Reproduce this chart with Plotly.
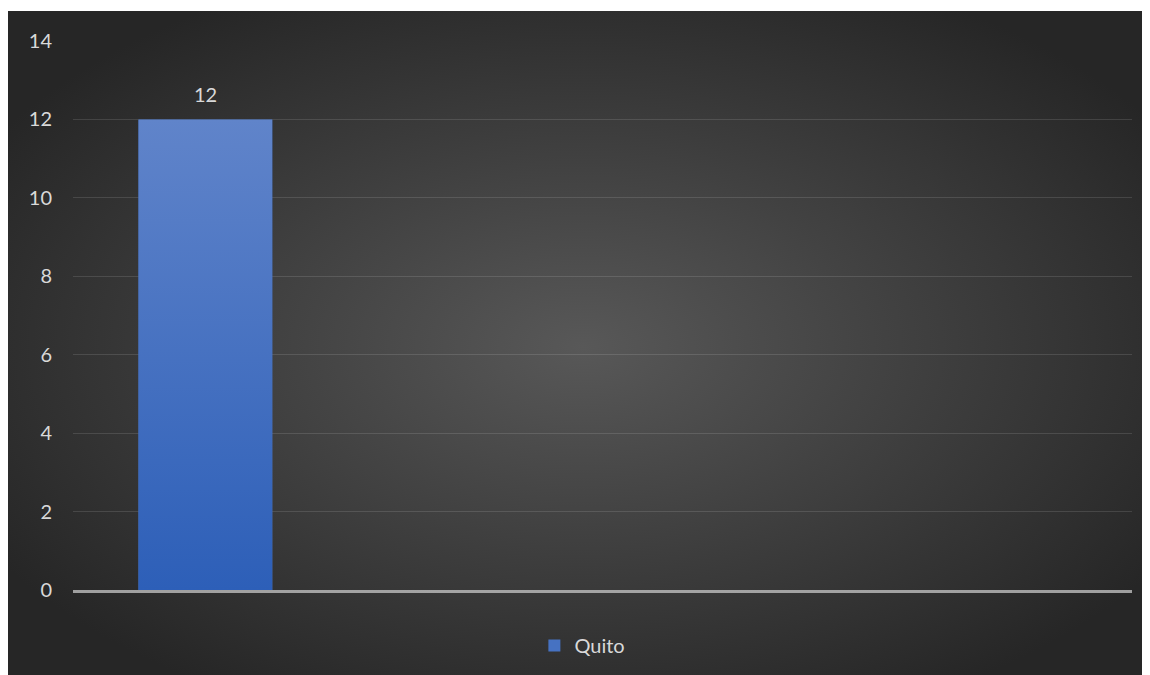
import base64
import plotly.graph_objects as go

# ---- data ----
slots = [0, 1, 2, 3]            # category slots along the x axis (only first has a value)
series_name = "Quito"
values = [12]
value_labels = ["12"]
y_ticks = [0, 2, 4, 6, 8, 10, 12, 14]

BAR_W = 0.506
W, H = 1150, 675
ML, MR, MT, MB = 65, 26, 33, 93
PW, PH = W - ML - MR, H - MT - MB


def svg_uri(s):
    return "data:image/svg+xml;base64," + base64.b64encode(s.encode()).decode()


bg_svg = f'''<svg xmlns="http://www.w3.org/2000/svg" width="{W}" height="{H}" viewBox="0 0 {W} {H}" preserveAspectRatio="none">
<defs><radialGradient id="g" cx="50%" cy="50%" r="60%">
<stop offset="0%" stop-color="#585858"/>
<stop offset="100%" stop-color="#262626"/>
</radialGradient></defs>
<rect x="0" y="0" width="{W}" height="{H}" fill="#ffffff"/>
<rect x="0" y="3" width="{W}" height="{H-3}" fill="url(#g)"/>
</svg>'''

bar_svg = '''<svg xmlns="http://www.w3.org/2000/svg" width="100" height="100" viewBox="0 0 100 100" preserveAspectRatio="none">
<defs><linearGradient id="b" x1="0" y1="0" x2="0" y2="1">
<stop offset="0%" stop-color="#6084CA"/>
<stop offset="100%" stop-color="#2D5FB8"/>
</linearGradient></defs>
<rect x="0" y="0" width="100" height="100" fill="url(#b)"/>
</svg>'''

font = "Lato, 'Open Sans', sans-serif"
fig = go.Figure()
fig.add_trace(go.Bar(
    x=slots[:len(values)], y=values, name=series_name, width=BAR_W,
    marker=dict(color="#4672C2", line=dict(width=0)),
    showlegend=True,
))

images = [dict(source=svg_uri(bg_svg), xref="paper", yref="paper",
               x=-ML / PW, y=1 + MT / PH, sizex=W / PW, sizey=H / PH,
               xanchor="left", yanchor="top", sizing="stretch", layer="below")]
# gradient fill laid over each bar, placed through the data axes
for x, v in zip(slots, values):
    images.append(dict(source=svg_uri(bar_svg), xref="x", yref="y",
                       x=x - BAR_W / 2, y=v, sizex=BAR_W, sizey=v,
                       xanchor="left", yanchor="top", sizing="stretch", layer="above"))

for x, v, t in zip(slots, values, value_labels):
    fig.add_annotation(x=x, y=v, text=t, showarrow=False, yanchor="bottom",
                       yshift=11, font=dict(color="#d9d9d9", size=20, family=font))

fig.update_layout(
    width=W, height=H,
    margin=dict(l=ML, r=MR, t=MT, b=MB),
    paper_bgcolor="rgba(0,0,0,0)", plot_bgcolor="rgba(0,0,0,0)",
    font=dict(family=font, color="#d9d9d9", size=20),
    showlegend=True,
    legend=dict(orientation="h", x=0.481, xanchor="center", y=-0.101, yanchor="middle",
                font=dict(size=20, color="#d9d9d9"), itemwidth=30,
                bgcolor="rgba(0,0,0,0)"),
    images=images,
    xaxis=dict(range=[-0.5, 3.5], showticklabels=False, showgrid=False, zeroline=False,
               showline=True, linecolor="rgba(200,200,200,0.75)", linewidth=2.5, ticks=""),
    yaxis=dict(range=[0, 14], tickvals=y_ticks, showgrid=True,
               gridcolor="rgba(255,255,255,0.12)", gridwidth=1, zeroline=False,
               showline=False, ticks="", ticklabelstandoff=20,
               tickfont=dict(size=20, color="#d9d9d9")),
)
fig.write_html("out.html")
